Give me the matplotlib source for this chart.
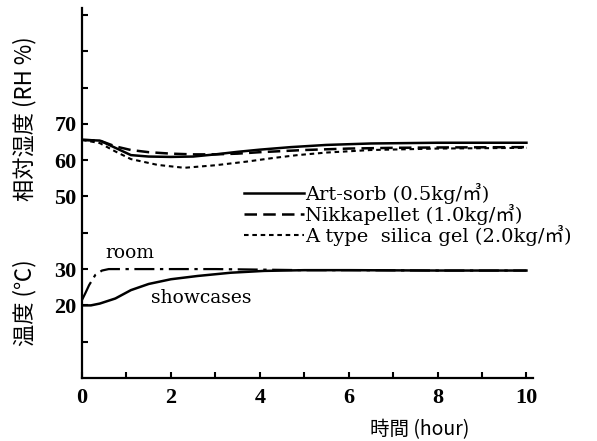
import matplotlib
matplotlib.use('Agg')
import matplotlib.pyplot as plt
from matplotlib.ticker import FixedLocator, FixedFormatter

# --- data ---
# relative humidity (RH %)
rh_hours_art = [0, 0.4, 0.75, 1.1, 1.5, 2.0, 2.5, 3.0, 3.5, 4.0, 4.7, 5.5, 6.5, 8.0, 10.0]
rh_art = [65.6, 65.4, 63.4, 61.4, 61.0, 60.9, 61.0, 61.6, 62.3, 62.9, 63.6, 64.2, 64.6, 64.8, 64.8]

rh_hours_nikka = [0, 0.4, 0.75, 1.1, 1.5, 2.0, 2.5, 3.0, 3.5, 4.0, 5.0, 6.0, 7.0, 8.0, 10.0]
rh_nikka = [65.6, 65.4, 63.8, 62.8, 62.2, 61.8, 61.6, 61.6, 61.8, 62.2, 62.8, 63.2, 63.4, 63.5, 63.6]

rh_hours_silica = [0, 0.4, 0.75, 1.1, 1.7, 2.3, 3.0, 3.7, 4.3, 4.85, 5.5, 6.5, 8.0, 10.0]
rh_silica = [65.6, 64.7, 62.4, 60.3, 58.7, 57.9, 58.6, 59.6, 60.6, 61.4, 62.1, 62.8, 63.2, 63.4]

# temperature (deg C)
t_hours_room = [0, 0.08, 0.16, 0.3, 0.45, 0.6, 1, 2, 3, 3.7, 5, 6, 8, 10]
t_room = [21.5, 23.5, 25.6, 28.4, 29.6, 30.0, 30.0, 30.0, 30.0, 29.9, 29.7, 29.7, 29.6, 29.6]

t_hours_case = [0, 0.2, 0.4, 0.75, 1.1, 1.5, 2.0, 2.6, 3.35, 4.1, 5, 6, 8, 10]
t_case = [20.0, 20.0, 20.5, 21.9, 24.2, 25.9, 27.2, 28.1, 29.0, 29.5, 29.7, 29.7, 29.6, 29.6]

legend_labels = ['Art-sorb (0.5kg/㎥)', 'Nikkapellet (1.0kg/㎥)', 'A type  silica gel (2.0kg/㎥)']

y_ticks = [10, 20, 30, 40, 50, 60, 70, 80, 90, 100]
y_tick_labels = ['', '20', '30', '', '50', '60', '70', '', '', '']
x_ticks = [0, 1, 2, 3, 4, 5, 6, 7, 8, 9, 10]
x_tick_labels = ['0', '', '2', '', '4', '', '6', '', '8', '', '10']

SERIF = ['Liberation Serif', 'Noto Sans CJK JP']
WIDE_SERIF = ['DejaVu Serif', 'Noto Sans CJK JP']
CJK = ['Noto Sans CJK JP', 'Liberation Serif']

fig = plt.figure(figsize=(5.97, 4.41), dpi=100)
ax = fig.add_axes([0.1374, 0.1429, 0.7556, 0.8396])

lw = 1.8
ax.plot(rh_hours_art, rh_art, color='black', lw=lw, linestyle='-', label=legend_labels[0])
ax.plot(rh_hours_nikka, rh_nikka, color='black', lw=lw, linestyle=(0, (5, 2.5)), label=legend_labels[1])
ax.plot(rh_hours_silica, rh_silica, color='black', lw=1.5, linestyle=(0, (2.2, 1.8)), label=legend_labels[2])

ax.plot(t_hours_room, t_room, color='black', lw=1.6, linestyle=(0, (9, 2.5, 1.5, 2.5)))
ax.plot(t_hours_case, t_case, color='black', lw=lw, linestyle='-')

ax.text(0.53, 34.4, 'room', fontsize=13.5, family=WIDE_SERIF, va='center', ha='left')
ax.text(1.55, 22.0, 'showcases', fontsize=13.5, family=WIDE_SERIF, va='center', ha='left')

ax.set_xlim(0, 10.15)
ax.set_ylim(0, 102)

for side in ['top', 'right']:
    ax.spines[side].set_visible(False)
for side in ['left', 'bottom']:
    ax.spines[side].set_linewidth(1.6)

ax.xaxis.set_major_locator(FixedLocator(x_ticks))
ax.xaxis.set_major_formatter(FixedFormatter(x_tick_labels))
ax.yaxis.set_major_locator(FixedLocator(y_ticks))
ax.yaxis.set_major_formatter(FixedFormatter(y_tick_labels))
ax.tick_params(axis='both', direction='in', length=4, width=1.5)
ax.tick_params(axis='x', pad=7)
ax.tick_params(axis='y', pad=4)
for lab in ax.get_xticklabels() + ax.get_yticklabels():
    lab.set_family(SERIF)
    lab.set_fontsize(16)
    lab.set_fontweight('bold')

leg = ax.legend(loc='upper left', bbox_to_anchor=(0.358, 0.527), frameon=False,
                handlelength=3.1, handletextpad=0.05, labelspacing=0.0,
                borderaxespad=0, borderpad=0,
                prop={'family': WIDE_SERIF, 'size': 14})

fig.text(0.042, 0.732, '相対湿度 (RH %)', rotation=90, fontsize=16, family=CJK,
         ha='center', va='center')
fig.text(0.042, 0.313, '温度 (℃)', rotation=90, fontsize=16, family=CJK,
         ha='center', va='center')
fig.text(0.703, 0.025, '時間 (hour)', fontsize=14, family=CJK, ha='center', va='center')

fig.savefig('out.png', dpi=100, facecolor='white')
